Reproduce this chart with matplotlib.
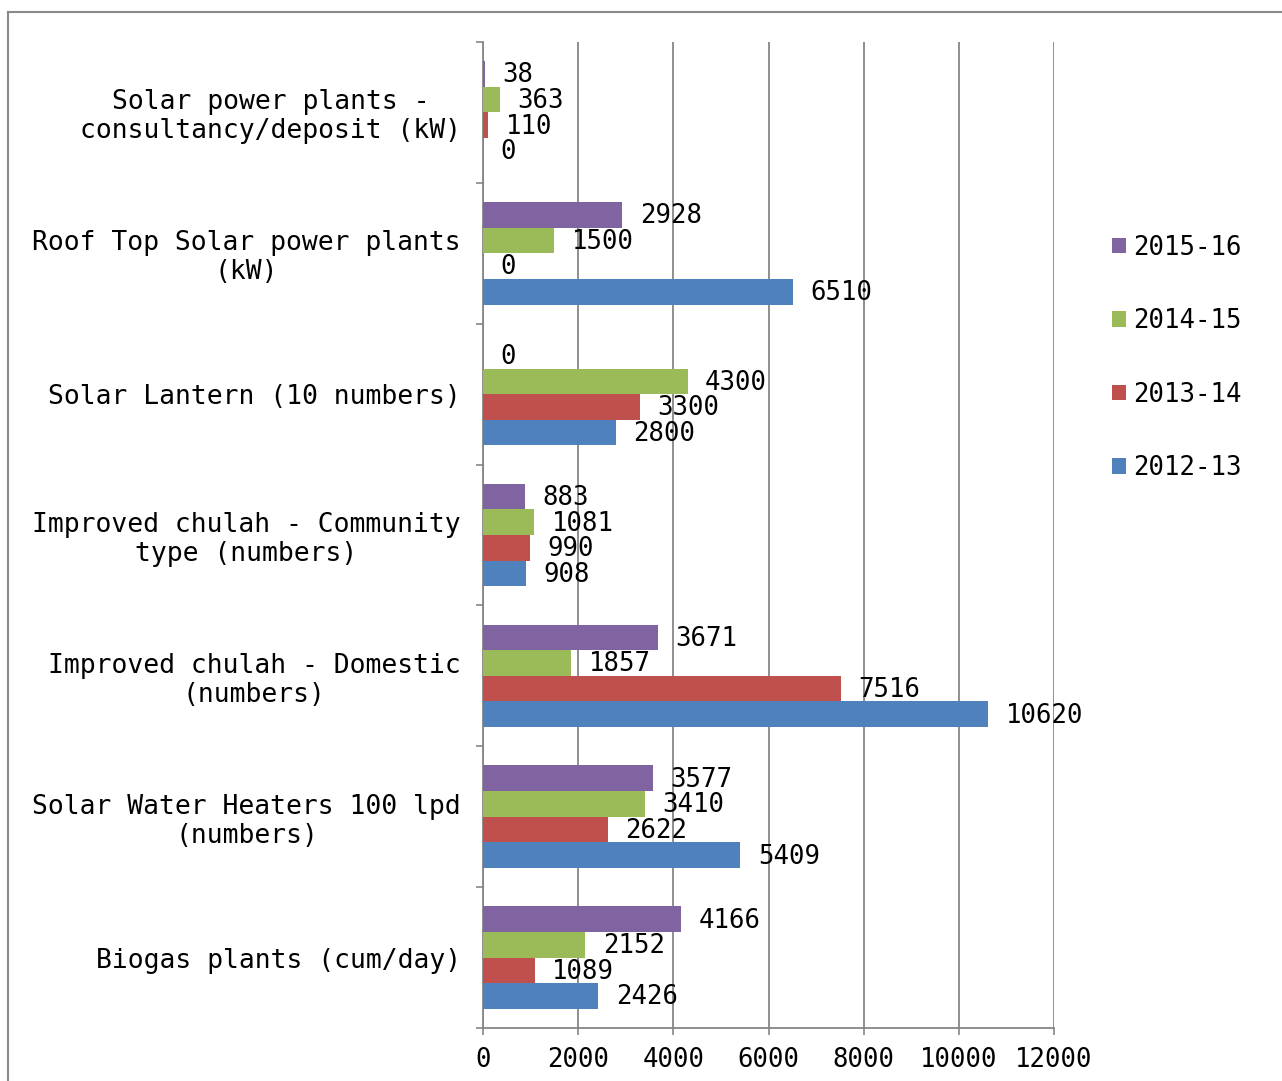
import matplotlib
matplotlib.use("Agg")
import matplotlib.pyplot as plt
from matplotlib.lines import Line2D
import numpy as np

categories = [
    "Biogas plants (cum/day)",
    "Solar Water Heaters 100 lpd\n(numbers)",
    "Improved chulah - Domestic\n(numbers)",
    "Improved chulah - Community\ntype (numbers)",
    "Solar Lantern (10 numbers)",
    "Roof Top Solar power plants\n(kW)",
    "Solar power plants -\nconsultancy/deposit (kW)",
]
series_names = ["2012-13", "2013-14", "2014-15", "2015-16"]
v2012 = [2426, 5409, 10620, 908, 2800, 6510, 0]
v2013 = [1089, 2622, 7516, 990, 3300, 0, 110]
v2014 = [2152, 3410, 1857, 1081, 4300, 1500, 363]
v2015 = [4166, 3577, 3671, 883, 0, 2928, 38]
series_values = [v2012, v2013, v2014, v2015]
colors = ["#4F81BD", "#C0504D", "#9BBB59", "#8064A2"]
xticks = [0, 2000, 4000, 6000, 8000, 10000, 12000]

FONT = "DejaVu Sans Mono"
plt.rcParams['font.family'] = [FONT, 'DejaVu Sans']

W, H = 1282, 1081
fig = plt.figure(figsize=(W / 100, H / 100), dpi=100)
ax = fig.add_axes([483 / W, 1 - 1028 / H, (1054 - 483) / W, (1028 - 42) / H])

y = np.arange(len(categories))
h = 0.182
offsets = [-1.5 * h, -0.5 * h, 0.5 * h, 1.5 * h]
gridc = "#868686"

ax.set_axisbelow(True)
for vals, col, off, name in zip(series_values, colors, offsets, series_names):
    bars = ax.barh(y + off, vals, height=h, color=col, linewidth=0,
                   label=name, zorder=3)
    for b, v in zip(bars, vals):
        ax.annotate(str(v), (b.get_width(), b.get_y() + b.get_height() / 2),
                    xytext=(12.5, -1), textcoords="offset points",
                    ha="left", va="center", fontsize=18.5, color="black",
                    zorder=5)

ax.set_xlim(0, 12000)
ax.set_ylim(-0.5, len(categories) - 0.5)
ax.set_xticks(xticks)
ax.set_xticklabels([str(t) for t in xticks], fontsize=18.5)
ax.set_yticks(y)
ax.set_yticklabels(categories, fontsize=19)
for lab in ax.get_yticklabels():
    lab.set_multialignment("center")
    lab.set_linespacing(1.15)
ax.set_yticks(np.arange(-0.5, len(categories), 1.0), minor=True)
ax.tick_params(axis="y", which="major", length=0, pad=16)
ax.tick_params(axis="y", which="minor", length=5, width=1.2, color=gridc)
ax.tick_params(axis="x", which="major", length=5, width=1.2, color=gridc, pad=9)

ax.xaxis.grid(True, color=gridc, linewidth=1.3, zorder=0)
for s in ["top", "right"]:
    ax.spines[s].set_visible(False)
for s in ["left", "bottom"]:
    ax.spines[s].set_color(gridc)
    ax.spines[s].set_linewidth(1.3)

handles, labels = ax.get_legend_handles_labels()
leg = fig.legend(handles[::-1], labels[::-1], loc="center left",
                 bbox_to_anchor=(1102 / W, 1 - 358 / H), frameon=False,
                 fontsize=18.5, handlelength=0.55, handleheight=0.55,
                 handletextpad=0.25, labelspacing=1.85, borderaxespad=0)

# outer chart border (partially cropped)
fig.add_artist(Line2D([8 / W, 8 / W], [0, 1 - 12 / H], transform=fig.transFigure,
                      color="#8a8a8a", linewidth=1.5))
fig.add_artist(Line2D([8 / W, 1], [1 - 12 / H, 1 - 12 / H], transform=fig.transFigure,
                      color="#8a8a8a", linewidth=1.5))

fig.savefig("out.png", dpi=100, facecolor="white")
